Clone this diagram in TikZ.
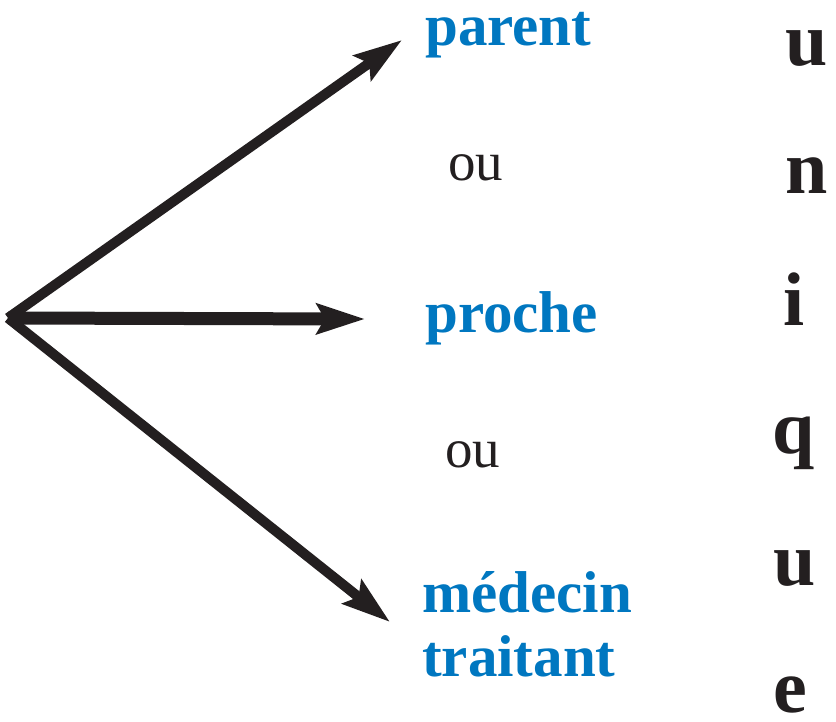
\documentclass[tikz,border=0pt]{standalone}
\usepackage{fontspec}
\setmainfont{Liberation Serif}
\usetikzlibrary{arrows.meta}
\definecolor{inkblue}{RGB}{0,119,192}
\definecolor{ink}{RGB}{35,31,32}
\begin{document}
\begin{tikzpicture}[x=1pt,y=-1pt,
  choice/.style={font=\fontsize{59}{64}\selectfont\bfseries, text=inkblue, inner sep=0pt, anchor=base west, align=left},
  orword/.style={font=\fontsize{55}{60}\selectfont, text=ink, inner sep=0pt, anchor=base west},
  letter/.style={font=\fontsize{76}{80}\selectfont\bfseries, text=ink, inner sep=0pt, anchor=base west},
  arr/.style={draw=ink, line width=10pt, -{Stealth[length=48pt,width=30pt,inset=8pt]}},
]
\useasboundingbox (0,0) rectangle (836,721);
\coordinate (o) at (8,318);
\coordinate (t1) at (402,40);
\coordinate (t2) at (365,319);
\coordinate (t3) at (390,622);

\node[choice] (parent) at (425,45) {parent};
\node[orword] (ou1) at (448,180) {ou};
\node[choice] (proche) at (425,332) {proche};
\node[orword] (ou2) at (445,467) {ou};
\node[choice] (medecin) at (422,612) {médecin};
\node[choice] (traitant) at (422,676) {traitant};

\node[letter] (l1) at (785,65) {u};
\node[letter] (l2) at (785,193) {n};
\node[letter] (l3) at (783,325) {i};
\node[letter] (l4) at (772,453) {q};
\node[letter] (l5) at (773,585) {u};
\node[letter] (l6) at (773,712) {e};

\draw[arr] (o) -- (t1);
\draw[arr, line width=13pt] (o) -- (t2);
\draw[arr] (o) -- (t3);
\end{tikzpicture}
\end{document}
